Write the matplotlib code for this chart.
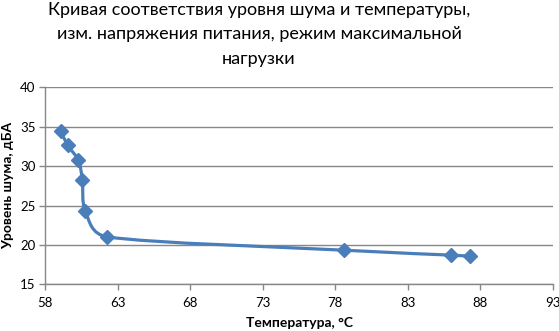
import numpy as np
import matplotlib
matplotlib.use("Agg")
import matplotlib.pyplot as plt
from matplotlib.path import Path
from matplotlib.patches import PathPatch

temperature = [59.06, 59.54, 60.27, 60.55, 60.76, 62.28, 78.57, 86.0, 87.27]
noise = [34.45, 32.64, 30.74, 28.24, 24.26, 21.04, 19.35, 18.72, 18.59]
x_ticks = [58, 63, 68, 73, 78, 83, 88, 93]
y_ticks = [15, 20, 25, 30, 35, 40]
title_lines = ["Кривая соответствия уровня шума и температуры,",
               "изм. напряжения питания, режим максимальной",
               "нагрузки"]
xlabel = "Температура, °C"
ylabel = "Уровень шума, дБА"

color = "#4A7EBB"
grid_c = "#878787"
font = ["Lato", "DejaVu Sans"]
W, H = 559, 331

fig = plt.figure(figsize=(W / 100, H / 100), dpi=100)
ax = fig.add_axes([0.0812, 0.1405, 0.9076, 0.5958])
ax.set_xlim(58, 93)
ax.set_ylim(15, 40)

# Excel-like smoothed curve: Bezier with control points limited to half segment
pix = ax.transData.transform(np.column_stack([temperature, noise]))
n = len(pix)
verts = [pix[0]]
codes = [Path.MOVETO]
for i in range(n - 1):
    p0 = pix[max(i - 1, 0)]
    p1 = pix[i]
    p2 = pix[i + 1]
    p3 = pix[min(i + 2, n - 1)]
    d12 = np.hypot(*(p2 - p1))
    t1 = p2 - p0
    t2 = p3 - p1
    d02 = np.hypot(*t1)
    d13 = np.hypot(*t2)
    f1 = 1 / 6.0 if d02 / 6.0 < d12 / 2.0 else d12 / (2.0 * d02)
    f2 = 1 / 6.0 if d13 / 6.0 < d12 / 2.0 else d12 / (2.0 * d13)
    c1 = p1 + t1 * f1
    c2 = p2 - t2 * f2
    verts += [c1, c2, p2]
    codes += [Path.CURVE4] * 3
verts = ax.transData.inverted().transform(np.array(verts))
ax.add_patch(PathPatch(Path(verts, codes), facecolor="none", edgecolor=color,
                       lw=2.3, capstyle="round", joinstyle="round", zorder=3))
ax.plot(temperature, noise, linestyle="none", marker="D", markersize=6.8,
        color=color, zorder=4)

ax.set_xticks(x_ticks)
ax.set_yticks(y_ticks)
ax.yaxis.grid(True, color=grid_c, lw=1)
ax.set_axisbelow(True)
for s in ["top", "right"]:
    ax.spines[s].set_visible(False)
for s in ["left", "bottom"]:
    ax.spines[s].set_color(grid_c)
    ax.spines[s].set_linewidth(1)
ax.tick_params(axis="both", direction="out", length=4, width=1, color=grid_c,
               labelsize=9.5)
ax.tick_params(axis="x", pad=5)
ax.tick_params(axis="y", pad=3)
for lab in ax.get_xticklabels() + ax.get_yticklabels():
    lab.set_fontfamily(font)

ax.set_xlabel(xlabel, fontsize=10, fontweight="bold", family=font, labelpad=6)
ax.set_ylabel(ylabel, fontsize=10, fontweight="bold", family=font, labelpad=4)
for k, line in enumerate(title_lines):
    fig.text(259 / W, 1 - (14.5 + 24.8 * k) / H, line, ha="center", va="baseline",
             fontsize=13, family=font)

fig.savefig("out.png", dpi=100)
